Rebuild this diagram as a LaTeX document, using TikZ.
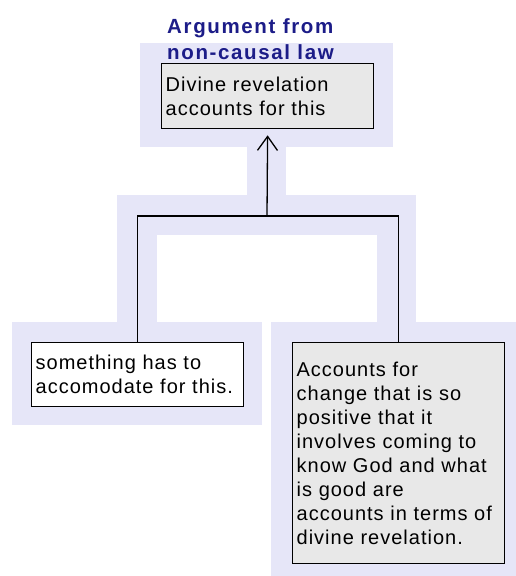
\documentclass[tikz,border=0pt]{standalone}
\usepackage{fontspec}
\setmainfont{Liberation Sans}
\newfontfamily\revfont[LetterSpace=5]{Liberation Sans}
\newfontfamily\revheadfont[LetterSpace=8]{Liberation Sans}
\usepackage{xcolor}
\definecolor{revhalo}{HTML}{E6E6F8}
\definecolor{revgray}{HTML}{E8E8E8}
\definecolor{revnavy}{HTML}{1C1C88}
\usepackage{tikz}
\usetikzlibrary{arrows.meta}
\tikzset{
  revhalo/.style={fill=revhalo,draw=none},
  revbox/.style={draw,line width=1.3pt,fill=revgray,inner xsep=4pt,inner ysep=4pt,align=left,text width=204pt,anchor=north west,font=\revfont\fontsize{20pt}{24pt}\selectfont},
  revplain/.style={revbox,fill=white},
  revtitle/.style={inner sep=0pt,align=left,anchor=north west,text=revnavy,font=\revheadfont\bfseries\fontsize{20.5pt}{26pt}\selectfont},
  revline/.style={line width=1.3pt},
  revflow/.style={revline,-{Straight Barb[length=14pt,width=20pt]},shorten >=6pt},
}

\begin{document}
\begin{tikzpicture}[x=1pt,y=-1pt]
\useasboundingbox[fill=white] (0,0) rectangle (516,576);
\fill[revhalo] (140,43) rectangle (393,147);
\fill[revhalo] (247,147) rectangle (286,195);
\fill[revhalo] (117,195) rectangle (416,235);
\fill[revhalo] (117,235) rectangle (157,322);
\fill[revhalo] (377,235) rectangle (416,322);
\fill[revhalo] (12,322) rectangle (262,425);
\fill[revhalo] (271,322) rectangle (516,576);
\node[revtitle] (title) at (167,18.5) {Argument from\\non-causal law};
\node[revbox,minimum height=65pt] (divine) at (161,63) {Divine revelation\\accounts for this};
\node[revplain,minimum height=64pt] (accom) at (31,342) {something has to\\accomodate for this.};
\node[revbox,minimum height=221pt] (change) at (292,342) {Accounts for\\change that is so\\positive that it\\involves coming to\\know God and what\\is good are\\accounts in terms of\\divine revelation.};
\coordinate (fork) at (267,216);
\draw[revline] (accom.north) |- (fork) -| (change.north);
\draw[revflow] (fork) -- (divine.south);
\end{tikzpicture}
\end{document}
